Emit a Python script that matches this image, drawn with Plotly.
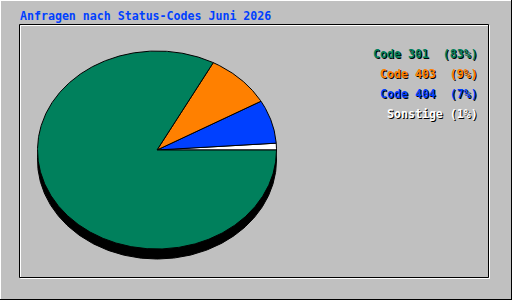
import numpy as np
import plotly.graph_objects as go

title = "Anfragen nach Status-Codes Juni 2026"
labels = ["Code 301", "Code 403", "Code 404", "Sonstige"]
values = [82.8, 9.0, 7.1, 1.1]
colors = ["#00805c", "#ff8000", "#0040ff", "#ffffff"]
legend_sep = ["  ", "  ", "  ", " "]

W, H = 512, 300
BG = "#c0c0c0"
cx, cy, rx, ry = 157, 150, 119.5, 99
depth = 10

fig = go.Figure()

def ellipse_pts(a0, a1, n=200):
    t = np.linspace(np.radians(a0), np.radians(a1), n)
    return cx + rx * np.cos(t), cy - ry * np.sin(t)

# shadow
sx, sy = ellipse_pts(0, 360, 400)
fig.add_trace(go.Scatter(x=sx, y=sy + depth, fill="toself", fillcolor="#000000",
                         line=dict(color="#000000", width=1), mode="lines",
                         hoverinfo="skip", showlegend=False))

# slices: drawn counterclockwise from 3 o'clock, last legend item first
total = sum(values)
order = list(range(len(values)))[::-1]
start = 0.0
for i in order:
    ang = values[i] / total * 360
    ex, ey = ellipse_pts(start, start + ang, max(4, int(ang * 2)))
    px = np.concatenate([[cx], ex, [cx]])
    py = np.concatenate([[cy], ey, [cy]])
    fig.add_trace(go.Scatter(x=px, y=py, fill="toself", fillcolor=colors[i],
                             line=dict(color="#000000", width=1), mode="lines",
                             hoverinfo="skip", showlegend=False))
    start += ang

ann = []
font_family = "DejaVu Sans Mono"
fs = 11.6
ann.append(dict(x=19, y=15.5, xref="x", yref="y", text="<b>%s</b>" % title,
                showarrow=False, xanchor="left", yanchor="middle", borderpad=0,
                font=dict(family=font_family, size=fs, color="#0040ff")))

for k, (lab, v, c, sep) in enumerate(zip(labels, values, colors, legend_sep)):
    txt = "<b>%s%s(%d%%)</b>" % (lab, sep, round(v))
    yy = 54 + 20 * k
    ann.append(dict(x=480, y=yy + 1, xref="x", yref="y", text=txt, showarrow=False,
                    xanchor="right", yanchor="middle", borderpad=0,
                    font=dict(family=font_family, size=fs, color="#000000")))
    ann.append(dict(x=479, y=yy, xref="x", yref="y", text=txt, showarrow=False,
                    xanchor="right", yanchor="middle", borderpad=0,
                    font=dict(family=font_family, size=fs, color=c)))

shapes = [
    # outer raised border
    dict(type="line", x0=0, x1=W, y0=0.5, y1=0.5, line=dict(color="#ffffff", width=1)),
    dict(type="line", x0=0.5, x1=0.5, y0=0, y1=H, line=dict(color="#ffffff", width=1)),
    dict(type="line", x0=0, x1=W, y0=H - 0.5, y1=H - 0.5, line=dict(color="#000000", width=1)),
    dict(type="line", x0=W - 0.5, x1=W - 0.5, y0=0, y1=H, line=dict(color="#000000", width=1)),
    # inner frame
    dict(type="rect", x0=20.5, x1=489.5, y0=25.5, y1=278.5, line=dict(color="#ffffff", width=1)),
    dict(type="rect", x0=19.5, x1=488.5, y0=24.5, y1=277.5, line=dict(color="#000000", width=1)),
]

fig.update_layout(
    width=W, height=H, margin=dict(l=0, r=0, t=0, b=0, pad=0),
    paper_bgcolor=BG, plot_bgcolor=BG,
    xaxis=dict(range=[0, W], visible=False, fixedrange=True),
    yaxis=dict(range=[H, 0], visible=False, fixedrange=True),
    annotations=ann, shapes=shapes, showlegend=False,
)
fig.write_html("out.html", config={"displayModeBar": False})
